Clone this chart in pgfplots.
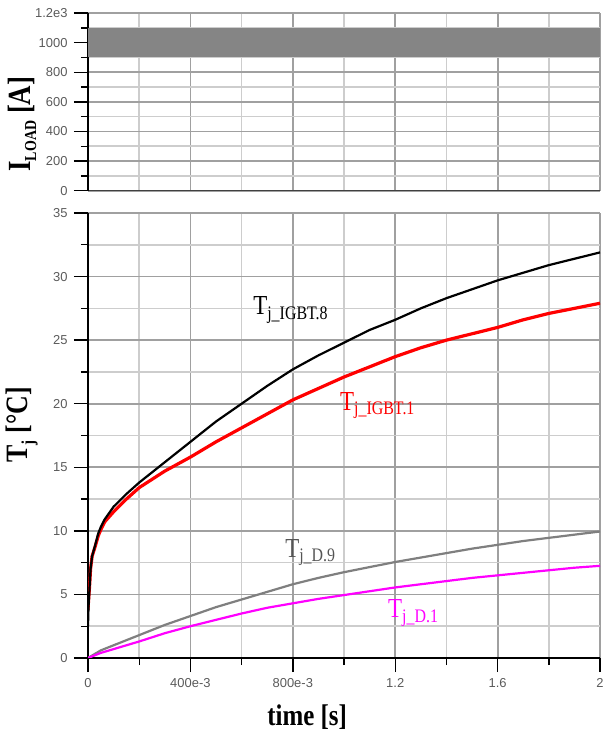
\documentclass[border=0pt]{standalone}
\usepackage{fontspec}
\setmainfont{Liberation Serif}
\newfontfamily\tickfont{Liberation Sans}
\usepackage{graphicx}
\usepackage{pgfplots}
\pgfplotsset{compat=1.18}

\definecolor{majgrid}{HTML}{A0A0A0}
\definecolor{mingrid}{HTML}{CDCDCD}
\definecolor{ticklab}{HTML}{5A5A5A}
\definecolor{dnine}{HTML}{7F7F7F}
\definecolor{dninelab}{HTML}{555555}
\definecolor{mag}{HTML}{FF00FF}
\definecolor{band}{HTML}{858585}

\newcommand{\ann}[1]{\scalebox{1}[1.2]{\fontsize{23}{23}\selectfont T\raisebox{-4bp}{\fontsize{16}{16}\selectfont #1}}}

\pgfplotsset{
 common/.style={
  scale only axis, width=512bp,
  xmin=0, xmax=2,
  xtick={0,0.4,0.8,1.2,1.6,2},
  minor xtick={0.2,0.6,1.0,1.4,1.8},
  grid=both,
  major grid style={majgrid, line width=1.8bp},
  minor grid style={mingrid, line width=1.6bp},
  axis x line*=bottom, axis y line*=left,
  axis line style={-, black, line width=2bp},
  tick align=outside,
  major tick length=14bp, minor tick length=7bp,
  every tick/.style={black, line width=1.4bp},
  tick label style={font=\tickfont\fontsize{13}{13}\selectfont, text=ticklab},
  yticklabel style={xshift=-3bp},
  /pgf/number format/assume math mode=true,
 }
}

\begin{document}
\begin{tikzpicture}
\useasboundingbox (0,0) rectangle (609bp,735bp);

% ---------- top: load current ----------
\begin{axis}[common,
  at={(88bp,544.3bp)}, anchor=south west,
  height=177.7bp,
  ymin=0, ymax=1200,
  ytick={0,200,400,600,800,1000,1200},
  yticklabels={0,200,400,600,800,1000,1.2e3},
  minor ytick={100,300,500,700,900,1100},
  xticklabels={},
  xtick style={draw=none},
  x axis line style={line width=1.5bp, black!75},
  ylabel={\scalebox{1}[1.2]{\bfseries\fontsize{27}{27}\selectfont I\raisebox{-5bp}{\fontsize{14}{14}\selectfont LOAD} [A]}},
  ylabel style={at={(axis description cs:-0.129,0.375)}, anchor=center},
]
% dense load current, drawn as its envelope 906 A ... 1098 A
\addplot[band, line width=28.4bp, line cap=butt] coordinates {(0,1002) (2,1002)};
\end{axis}

% ---------- bottom: junction temperatures ----------
\begin{axis}[common,
  at={(88bp,77bp)}, anchor=south west,
  height=445bp,
  ymin=0, ymax=35,
  ytick={0,5,10,15,20,25,30,35},
  minor ytick={2.5,7.5,12.5,17.5,22.5,27.5,32.5},
  xticklabels={0,400e-3,800e-3,1.2,1.6,2},
  xticklabel style={yshift=-3bp},
  xlabel={\scalebox{1}[1.2]{\bfseries\fontsize{25}{25}\selectfont time [s]}},
  xlabel style={at={(axis description cs:0.428,-0.133)}, anchor=center},
  ylabel={\scalebox{1}[1.2]{\bfseries\fontsize{26}{26}\selectfont T\raisebox{-5bp}{\fontsize{15}{15}\selectfont j} [\textdegree C]}},
  ylabel style={at={(axis description cs:-0.129,0.524)}, anchor=center},
]
% T_j_D.9
\addplot[dnine, line width=2.2bp] coordinates {
(0,0) (0.05,0.6) (0.1,1.0) (0.2,1.8) (0.3,2.6) (0.4,3.3) (0.5,4.0) (0.6,4.6)
(0.7,5.2) (0.8,5.8) (0.9,6.3) (1.0,6.75) (1.1,7.15) (1.2,7.55) (1.3,7.9)
(1.4,8.25) (1.5,8.6) (1.6,8.9) (1.7,9.2) (1.8,9.45) (1.9,9.7) (2.0,9.95)};
% T_j_D.1
\addplot[mag, line width=2.2bp] coordinates {
(0,0) (0.05,0.4) (0.1,0.7) (0.2,1.3) (0.3,1.95) (0.4,2.5) (0.5,3.0) (0.6,3.5)
(0.7,3.95) (0.8,4.3) (0.9,4.65) (1.0,4.95) (1.1,5.25) (1.2,5.55) (1.3,5.8)
(1.4,6.05) (1.5,6.3) (1.6,6.5) (1.7,6.7) (1.8,6.9) (1.9,7.1) (2.0,7.25)};
% T_j_IGBT.1
\addplot[red, line width=3.2bp] coordinates {
(0,3.8) (0.002,4.5) (0.006,5.6) (0.01,7.0) (0.016,8.0) (0.027,8.7) (0.04,9.6)
(0.05,10.1) (0.065,10.7) (0.1,11.5) (0.15,12.5) (0.2,13.4) (0.3,14.7) (0.4,15.8)
(0.5,17.0) (0.6,18.1) (0.7,19.2) (0.8,20.3) (0.9,21.2) (1.0,22.1) (1.1,22.9)
(1.2,23.7) (1.3,24.4) (1.4,25.0) (1.5,25.5) (1.6,26.0) (1.7,26.6) (1.8,27.1)
(1.9,27.5) (2.0,27.9)};
% T_j_IGBT.8
\addplot[black, line width=2.2bp] coordinates {
(0,2.5) (0.002,4.0) (0.006,5.5) (0.01,7.0) (0.016,8.0) (0.027,8.8) (0.04,9.8)
(0.05,10.3) (0.065,10.9) (0.1,11.9) (0.15,12.9) (0.2,13.8) (0.3,15.4) (0.4,17.0)
(0.5,18.6) (0.6,20.0) (0.7,21.4) (0.8,22.7) (0.9,23.8) (1.0,24.8) (1.1,25.8)
(1.2,26.6) (1.3,27.5) (1.4,28.3) (1.5,29.0) (1.6,29.7) (1.7,30.3) (1.8,30.9)
(1.9,31.4) (2.0,31.9)};

\node[anchor=base west, inner sep=0pt, text=black] at (axis cs:0.645,27.0) {\ann{j\_IGBT.8}};
\node[anchor=base west, inner sep=0pt, text=red] at (axis cs:0.984,19.5) {\ann{j\_IGBT.1}};
\node[anchor=base west, inner sep=0pt, text=dninelab] at (axis cs:0.77,7.94) {\ann{j\_D.9}};
\node[anchor=base west, inner sep=0pt, text=mag] at (axis cs:1.172,3.15) {\ann{j\_D.1}};
\end{axis}
\end{tikzpicture}
\end{document}
